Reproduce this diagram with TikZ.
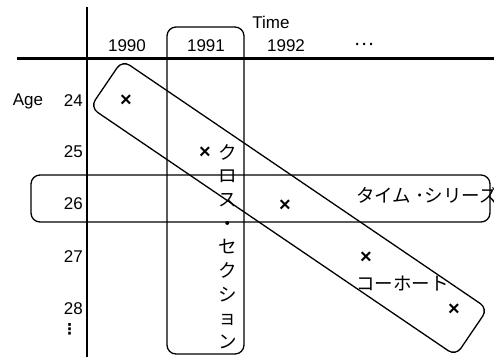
\documentclass[tikz,border=0pt]{standalone}
\usepackage{fontspec}
\setmainfont{Liberation Sans}
\newfontfamily\jpfont{Noto Sans CJK JP}
\newfontfamily\symfont{DejaVu Sans}
\tikzset{
  axis/.style={line width=2.2pt},
  group/.style={draw, rounded corners=9pt, line width=1.3pt, inner sep=0pt},
  lab/.style={font=\fontsize{17}{20}\selectfont, inner sep=0pt},
  obs/.style={font=\bfseries\fontsize{20}{20}\selectfont, inner sep=0pt},
  jp/.style={font=\jpfont\fontsize{18.5}{20}\selectfont, inner sep=0pt}
}
\begin{document}
\begin{tikzpicture}[x=1pt,y=-1pt]
\useasboundingbox (0,0) rectangle (494,357);

% axes
\draw[axis] (87,7) -- (87,357);
\draw[axis,line width=3pt] (17,58.5) -- (494,58.5);

% column and row labels
\node[lab] (time) at (271,22) {Time};
\node[lab] (y1990) at (127,46) {1990};
\node[lab] (y1991) at (206,46) {1991};
\node[lab] (y1992) at (286,46) {1992};
\node[jp] (ymore) at (364,44) {…};

\node[lab] (age) at (28,101) {Age};
\node[lab,anchor=east] (a24) at (83,101) {24};
\node[lab,anchor=east] (a25) at (83,152) {25};
\node[lab,anchor=east] (a26) at (83,204) {26};
\node[lab,anchor=east] (a27) at (83,257) {27};
\node[lab,anchor=east] (a28) at (83,309) {28};
\node[inner sep=0pt,font=\symfont\bfseries\fontsize{15}{16}\selectfont] (amore) at (69.5,329) {⋮};

% observations
\node[obs] (o1) at (126,101) {×};
\node[obs] (o2) at (205,153) {×};
\node[obs] (o3) at (285,206) {×};
\node[obs] (o4) at (366,258) {×};
\node[obs] (o5) at (454,310) {×};

% groupings
\node[group,minimum width=77pt,minimum height=327pt] (cross) at (205.5,190.5) {};
\node[group,minimum width=459pt,minimum height=47pt] (series) at (260.5,198.5) {};
\node[group,minimum width=442pt,minimum height=57pt,rotate=-34.2] (cohort) at (289,208) {};

\node[jp,align=center,font=\jpfont\fontsize{18.5}{23.6}\selectfont] (crosslab) at (228,246.5)
  {ク\\ロ\\ス\\・\\セ\\ク\\シ\\ョ\\ン};
\node[jp,anchor=west] (serieslab) at (356,195) {タイム ･シリーズ};
\node[jp,anchor=west] (cohortlab) at (356,284) {コーホート};
\end{tikzpicture}
\end{document}
